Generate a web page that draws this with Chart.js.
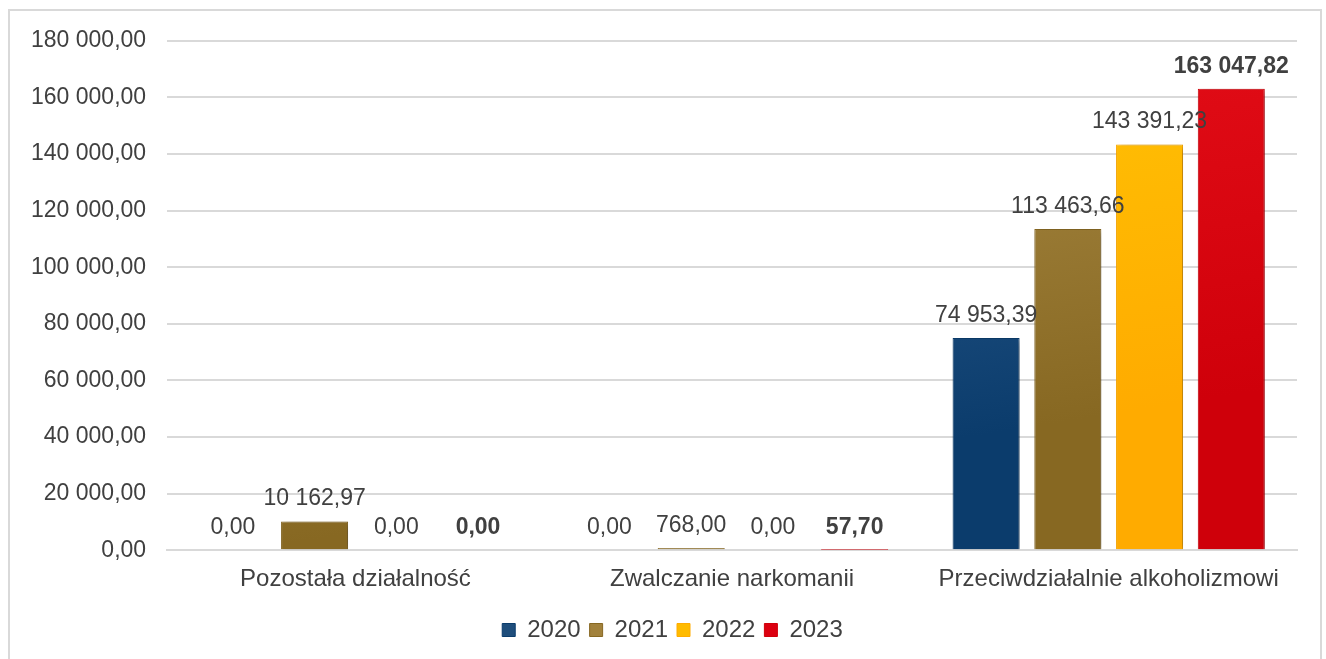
<!DOCTYPE html>
<html>
<head>
<meta charset="utf-8">
<script src="https://cdn.jsdelivr.net/npm/chart.js@4/dist/chart.umd.min.js"></script>
<style>
  html, body { margin: 0; padding: 0; background: #fff; }
  #frame {
    position: absolute; left: 8px; top: 9px; width: 1314px; height: 652px;
    border: 2px solid #d9d9d9; border-bottom: none; box-sizing: border-box;
  }
  #wrap { position: absolute; left: 0; top: -5px; width: 1310px; height: 654px; }
</style>
</head>
<body>
<div id="frame"><div id="wrap"><canvas id="myChart"></canvas></div></div>
<script>
document.addEventListener("DOMContentLoaded", () => {

  // dane
  const categories = ["Pozostała działalność", "Zwalczanie narkomanii", "Przeciwdziałalnie alkoholizmowi"];
  const years = ["2020", "2021", "2022", "2023"];
  const values2020 = [0, 0, 74953.39];
  const values2021 = [10162.97, 768.00, 113463.66];
  const values2022 = [0, 0, 143391.23];
  const values2023 = [0, 57.70, 163047.82];
  const yTicks = [0, 20000, 40000, 60000, 80000, 100000, 120000, 140000, 160000, 180000];

  // kolory (jasny -> ciemny)
  const colors = [
    ["#3a6b9e", "#0b3c6c", "#1f4e7c"],
    ["#b3944f", "#876822", "#a2823c"],
    ["#ffca05", "#ffab00", "#ffbb00"],
    ["#ea121c", "#cf000a", "#dc0010"]
  ];
  const FONT = "'Liberation Sans', Arial, sans-serif";
  const TXT = "#404040";

  const fmt = v => {
    const parts = v.toFixed(2).split(".");
    parts[0] = parts[0].replace(/\B(?=(\d{3})+(?!\d))/g, " ");
    return parts.join(",");
  };

  const grad = (i) => (context) => {
    const chart = context.chart;
    const area = chart.chartArea;
    if (!area) return colors[i][2];
    const g = chart.ctx.createLinearGradient(area.left, area.top, area.left + 80, area.bottom);
    g.addColorStop(0, colors[i][0]);
    g.addColorStop(1, colors[i][1]);
    return g;
  };

  const series = [values2020, values2021, values2022, values2023];

  const shadowPlugin = {
    id: "shadow",
    beforeDatasetDraw(chart) {
      const ctx = chart.ctx;
      ctx.save();
      ctx.shadowColor = "rgba(0,0,0,0.35)";
      ctx.shadowBlur = 7;
      ctx.shadowOffsetX = 3;
      ctx.shadowOffsetY = 2;
    },
    afterDatasetDraw(chart) {
      chart.ctx.restore();
    }
  };

  const labelPlugin = {
    id: "valueLabels",
    afterDatasetsDraw(chart) {
      const ctx = chart.ctx;
      ctx.save();
      ctx.textAlign = "center";
      ctx.textBaseline = "bottom";
      chart.data.datasets.forEach((ds, i) => {
        const meta = chart.getDatasetMeta(i);
        meta.data.forEach((bar, j) => {
          ctx.font = (i === 3 ? "bold " : "") + "23px " + FONT;
          ctx.fillStyle = TXT;
          ctx.fillText(fmt(ds.data[j]), bar.x, bar.y - 11);
        });
      });
      ctx.restore();
    }
  };

  // legenda troche w prawo, jak w oryginale
  const legendShift = {
    id: "legendShift",
    afterLayout(chart) {
      chart.legend.left += 19;
      chart.legend.right += 19;
    }
  };

  const ctx = document.getElementById("myChart");
  new Chart(ctx, {
    type: "bar",
    data: {
      labels: categories,
      datasets: series.map((vals, i) => ({
        label: years[i],
        data: vals,
        backgroundColor: grad(i),
        borderColor: colors[i][1],
        borderWidth: 1,
        categoryPercentage: 0.868,
        barPercentage: 0.82
      }))
    },
    options: {
      responsive: true,
      maintainAspectRatio: false,
      animation: false,
      layout: { padding: { left: 0, right: 23, top: 2, bottom: 8 } },
      plugins: {
        legend: {
          position: "bottom",
          labels: {
            font: { size: 24, family: FONT },
            color: TXT,
            boxWidth: 13,
            boxHeight: 13,
            padding: 9,
            generateLabels(chart) {
              return chart.data.datasets.map((ds, i) => ({
                text: ds.label,
                fillStyle: colors[i][2],
                strokeStyle: colors[i][1],
                fontColor: TXT,
                lineWidth: 1,
                datasetIndex: i
              }));
            }
          }
        },
        tooltip: { enabled: false }
      },
      scales: {
        x: {
          grid: { display: false, drawTicks: false },
          border: { color: "#d9d9d9", width: 2 },
          ticks: {
            font: { size: 24, family: FONT },
            color: TXT,
            padding: 15
          }
        },
        y: {
          min: 0,
          max: 180000,
          afterBuildTicks(axis) {
            axis.ticks = yTicks.map(v => ({ value: v }));
          },
          grid: { color: "#d9d9d9", lineWidth: 2, drawTicks: false },
          border: { display: false },
          ticks: {
            font: { size: 23, family: FONT },
            color: TXT,
            padding: 21,
            callback: v => fmt(v)
          }
        }
      }
    },
    plugins: [shadowPlugin, labelPlugin, legendShift]
  });

});
</script>
</body>
</html>
